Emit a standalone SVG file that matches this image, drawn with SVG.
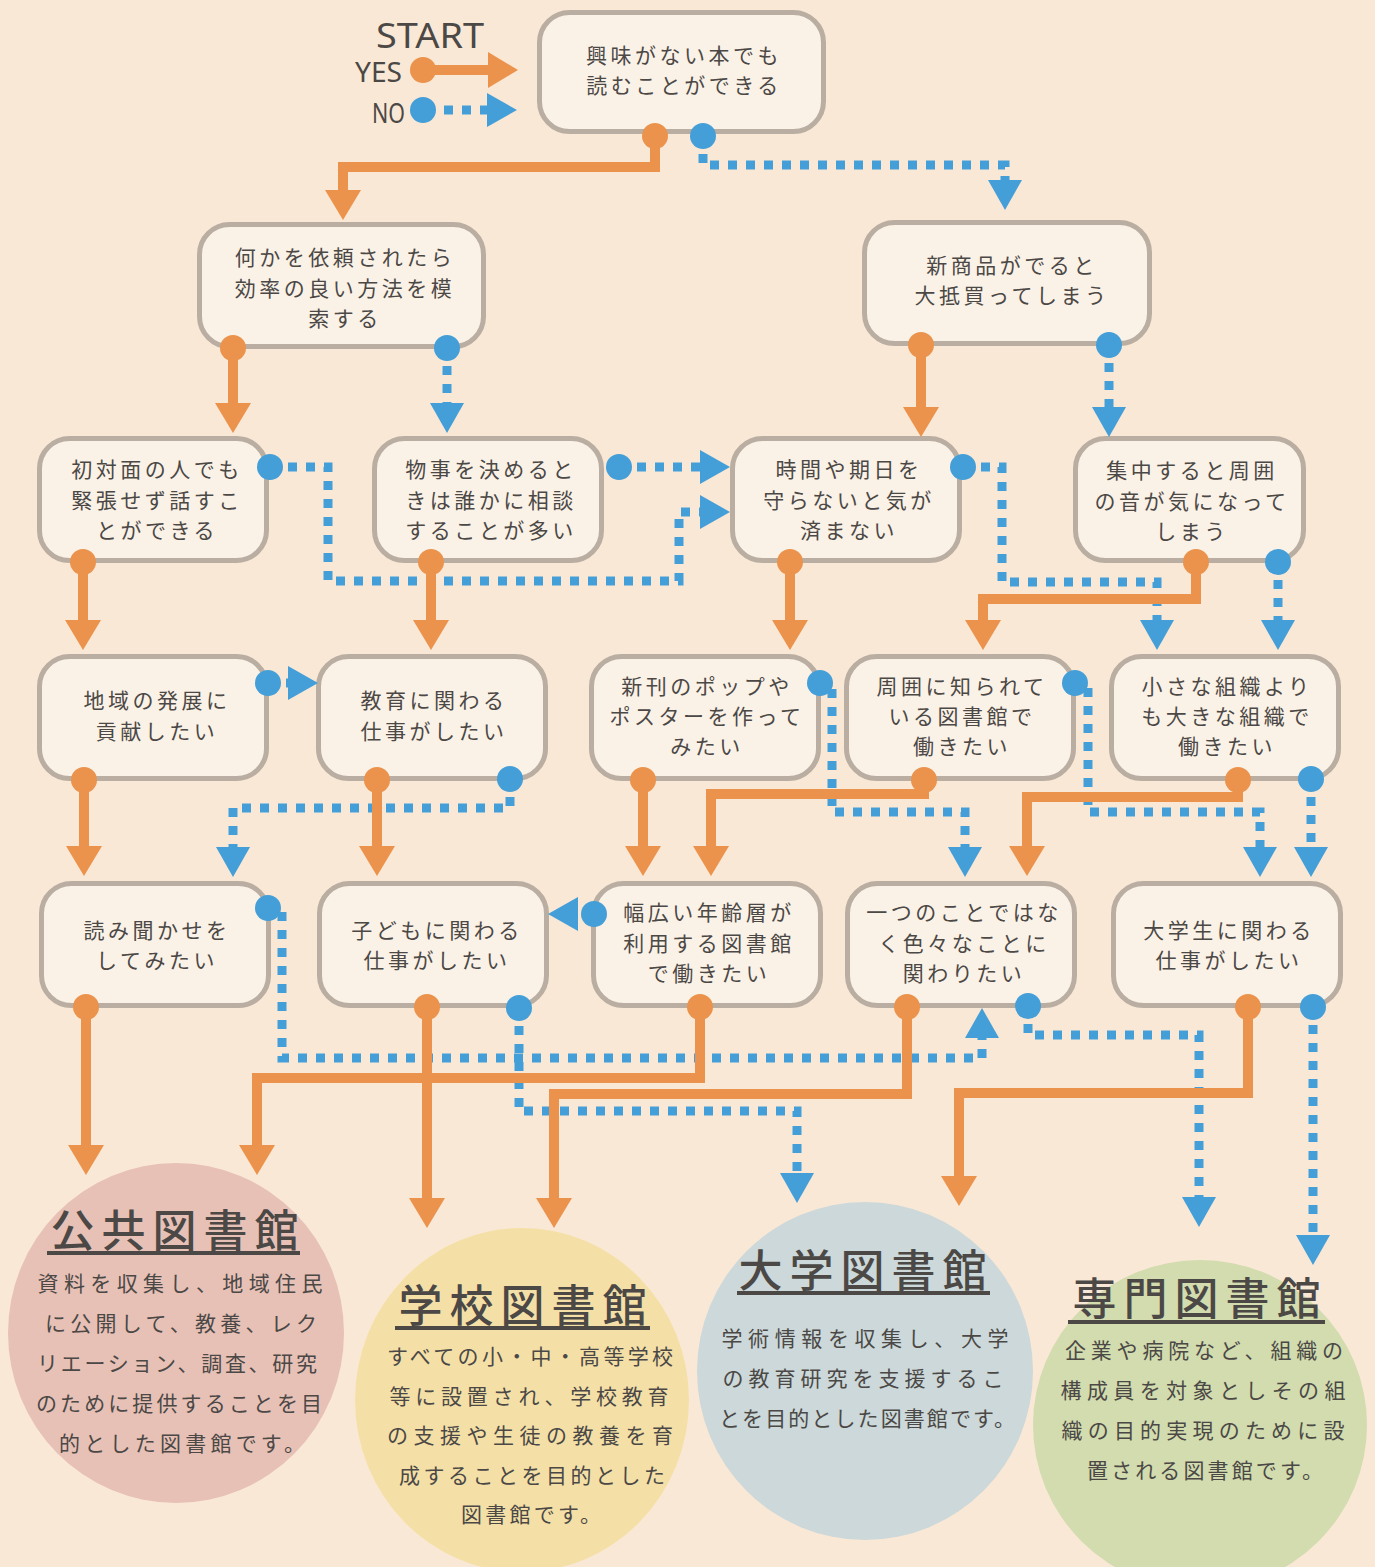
<svg xmlns="http://www.w3.org/2000/svg" width="1375" height="1567" viewBox="0 0 1375 1567">
<defs>
<style>
.box{fill:#FBF2E7;stroke:#B9AEA1;stroke-width:5}
.t{font-family:"Noto Sans CJK JP","Noto Sans CJK SC",sans-serif;font-size:21px;fill:#4B4846;letter-spacing:3.5px;text-anchor:middle}
.b{font-family:"Noto Sans CJK JP","Noto Sans CJK SC",sans-serif;font-size:21px;fill:#4B4846;text-anchor:middle}
.h{font-family:"Noto Sans CJK JP","Noto Sans CJK SC",sans-serif;font-size:44px;font-weight:500;fill:#4B4846;letter-spacing:7px;text-anchor:middle}
.ul{stroke:#4B4846;stroke-width:4}
.lg{font-family:"Noto Sans","DejaVu Sans",sans-serif;fill:#4B4846}
.y{fill:none;stroke:#EB934C;stroke-width:10;stroke-linejoin:miter;marker-start:url(#do);marker-end:url(#ao)}
.n{fill:none;stroke:#449ED8;stroke-width:9;stroke-dasharray:9 9;marker-start:url(#db);marker-end:url(#ab)}
</style>
<marker id="ao" viewBox="0 -18 30 36" refX="0" refY="0" markerWidth="30" markerHeight="36" markerUnits="userSpaceOnUse" orient="auto"><path d="M0,-18 L30,0 L0,18 Z" fill="#EB934C"/></marker>
<marker id="ab" viewBox="0 -17 30 34" refX="0" refY="0" markerWidth="30" markerHeight="34" markerUnits="userSpaceOnUse" orient="auto"><path d="M0,-17 L30,0 L0,17 Z" fill="#449ED8"/></marker>
<marker id="do" viewBox="-13 -13 26 26" refX="0" refY="0" markerWidth="26" markerHeight="26" markerUnits="userSpaceOnUse"><circle r="13" fill="#EB934C"/></marker>
<marker id="db" viewBox="-13 -13 26 26" refX="0" refY="0" markerWidth="26" markerHeight="26" markerUnits="userSpaceOnUse"><circle r="13" fill="#449ED8"/></marker>
</defs>
<rect width="1375" height="1567" fill="#FAE8D6"/>

<g id="legend">
<text class="lg" x="376" y="48" font-size="35" textLength="108" lengthAdjust="spacingAndGlyphs">START</text>
<text class="lg" x="355" y="82" font-size="28" textLength="47" lengthAdjust="spacingAndGlyphs">YES</text>
<text class="lg" x="372" y="123" font-size="28" textLength="33" lengthAdjust="spacingAndGlyphs">NO</text>
<path class="y" d="M423,70 H488"/>
<path class="n" d="M423,110 H487" stroke-dashoffset="-3" stroke-dasharray="10 10"/>
</g>

<g id="lib-public">
<ellipse cx="176" cy="1333" rx="168" ry="170" fill="#E7C1B6"/>
<text class="h" x="178" y="1247">公共図書館</text>
<line class="ul" x1="47" y1="1253" x2="300" y2="1253"/>
<text class="b" x="180" y="1291" textLength="285">資料を収集し、地域住民</text>
<text class="b" x="181" y="1331" textLength="272">に公開して、教養、レク</text>
<text class="b" x="177" y="1371" textLength="280">リエーション、調査、研究</text>
<text class="b" x="179" y="1411" textLength="286">のために提供することを目</text>
<text class="b" x="182" y="1451" textLength="246">的とした図書館です。</text>
</g>
<g id="lib-school">
<ellipse cx="522" cy="1400" rx="167" ry="172" fill="#F4E0A7"/>
<text class="h" x="526" y="1322">学校図書館</text>
<line class="ul" x1="395" y1="1328" x2="650" y2="1328"/>
<text class="b" x="530" y="1364" textLength="286">すべての小・中・高等学校</text>
<text class="b" x="529" y="1404" textLength="279">等に設置され、学校教育</text>
<text class="b" x="530" y="1443" textLength="286">の支援や生徒の教養を育</text>
<text class="b" x="532" y="1483" textLength="266">成することを目的とした</text>
<text class="b" x="531" y="1522" textLength="140">図書館です。</text>
</g>
<g id="lib-univ">
<ellipse cx="865" cy="1371" rx="168" ry="169" fill="#CCD8D9"/>
<text class="h" x="866" y="1287">大学図書館</text>
<line class="ul" x1="737" y1="1293" x2="990" y2="1293"/>
<text class="b" x="865" y="1346" textLength="287">学術情報を収集し、大学</text>
<text class="b" x="863" y="1386" textLength="281">の教育研究を支援するこ</text>
<text class="b" x="867" y="1426" textLength="296">とを目的とした図書館です。</text>
</g>
<g id="lib-special">
<ellipse cx="1200" cy="1425" rx="167" ry="165" fill="#D2DCAE"/>
<text class="h" x="1200" y="1315">専門図書館</text>
<line class="ul" x1="1068" y1="1322" x2="1325" y2="1322"/>
<text class="b" x="1204" y="1358" textLength="278">企業や病院など、組織の</text>
<text class="b" x="1203" y="1398" textLength="285">構成員を対象としその組</text>
<text class="b" x="1203" y="1438" textLength="283">織の目的実現のために設</text>
<text class="b" x="1205" y="1478" textLength="236">置される図書館です。</text>
</g>

<g id="q-start">
<rect class="box" x="539.5" y="12.5" width="284" height="119" rx="30"/>
<text class="t" x="684" y="63">興味がない本でも</text>
<text class="t" x="684" y="93">読むことができる</text>
</g>
<g id="q-request">
<rect class="box" x="199.5" y="224.5" width="284" height="122" rx="30"/>
<text class="t" x="345" y="265">何かを依頼されたら</text>
<text class="t" x="345" y="296">効率の良い方法を模</text>
<text class="t" x="345" y="326">索する</text>
</g>
<g id="q-newproduct">
<rect class="box" x="864.5" y="222.5" width="285" height="121" rx="30"/>
<text class="t" x="1012" y="273">新商品がでると</text>
<text class="t" x="1012" y="303">大抵買ってしまう</text>
</g>
<g id="q-firstmeet">
<rect class="box" x="39.5" y="438.5" width="227" height="122" rx="30"/>
<text class="t" x="157" y="477">初対面の人でも</text>
<text class="t" x="157" y="508">緊張せず話すこ</text>
<text class="t" x="157" y="538">とができる</text>
</g>
<g id="q-consult">
<rect class="box" x="374.5" y="438.5" width="227" height="122" rx="30"/>
<text class="t" x="491" y="477">物事を決めると</text>
<text class="t" x="491" y="508">きは誰かに相談</text>
<text class="t" x="491" y="538">することが多い</text>
</g>
<g id="q-deadline">
<rect class="box" x="732.5" y="438.5" width="227" height="122" rx="30"/>
<text class="t" x="849" y="477">時間や期日を</text>
<text class="t" x="849" y="508">守らないと気が</text>
<text class="t" x="849" y="538">済まない</text>
</g>
<g id="q-focus">
<rect class="box" x="1075.5" y="438.5" width="228" height="122" rx="30"/>
<text class="t" x="1192" y="478">集中すると周囲</text>
<text class="t" x="1192" y="509">の音が気になって</text>
<text class="t" x="1192" y="539">しまう</text>
</g>
<g id="q-community">
<rect class="box" x="39.5" y="656.5" width="227" height="122" rx="30"/>
<text class="t" x="157" y="708">地域の発展に</text>
<text class="t" x="157" y="739">貢献したい</text>
</g>
<g id="q-education">
<rect class="box" x="318.5" y="656.5" width="227" height="122" rx="30"/>
<text class="t" x="434" y="708">教育に関わる</text>
<text class="t" x="434" y="739">仕事がしたい</text>
</g>
<g id="q-pop">
<rect class="box" x="591.5" y="656.5" width="227" height="122" rx="30"/>
<text class="t" x="707" y="694">新刊のポップや</text>
<text class="t" x="707" y="724">ポスターを作って</text>
<text class="t" x="707" y="754">みたい</text>
</g>
<g id="q-famous">
<rect class="box" x="846.5" y="656.5" width="227" height="122" rx="30"/>
<text class="t" x="962" y="694">周囲に知られて</text>
<text class="t" x="962" y="724">いる図書館で</text>
<text class="t" x="962" y="754">働きたい</text>
</g>
<g id="q-bigorg">
<rect class="box" x="1111.5" y="656.5" width="227" height="122" rx="30"/>
<text class="t" x="1227" y="694">小さな組織より</text>
<text class="t" x="1227" y="724">も大きな組織で</text>
<text class="t" x="1227" y="754">働きたい</text>
</g>
<g id="q-storytime">
<rect class="box" x="41.5" y="883.5" width="227" height="122" rx="30"/>
<text class="t" x="157" y="938">読み聞かせを</text>
<text class="t" x="157" y="968">してみたい</text>
</g>
<g id="q-children">
<rect class="box" x="319.5" y="883.5" width="227" height="122" rx="30"/>
<text class="t" x="437" y="938">子どもに関わる</text>
<text class="t" x="437" y="968">仕事がしたい</text>
</g>
<g id="q-allages">
<rect class="box" x="593.5" y="883.5" width="227" height="122" rx="30"/>
<text class="t" x="709" y="920">幅広い年齢層が</text>
<text class="t" x="709" y="951">利用する図書館</text>
<text class="t" x="709" y="981">で働きたい</text>
</g>
<g id="q-variety">
<rect class="box" x="847.5" y="883.5" width="227" height="122" rx="30"/>
<text class="t" x="964" y="920">一つのことではな</text>
<text class="t" x="964" y="951">く色々なことに</text>
<text class="t" x="964" y="981">関わりたい</text>
</g>
<g id="q-students">
<rect class="box" x="1113.5" y="883.5" width="227" height="122" rx="30"/>
<text class="t" x="1229" y="938">大学生に関わる</text>
<text class="t" x="1229" y="968">仕事がしたい</text>
</g>

<g id="connectors">
<path class="n" d="M703,136 V165 H1005 V180"/>
<path class="n" d="M447,348 V403"/>
<path class="n" d="M1109,345 V407"/>
<path class="n" d="M270,467 H328 V581 H679 V512 H700"/>
<path class="n" d="M619,467 H700"/>
<path class="n" d="M963,467 H1002 V582 H1157 V620"/>
<path class="n" d="M1278,562 V620"/>
<path class="n" d="M268,683 H288"/>
<path class="n" d="M510,779 V808 H233 V847"/>
<path class="n" d="M820,683 H832 V812 H965 V847"/>
<path class="n" d="M1075,683 H1088 V812 H1260 V847"/>
<path class="n" d="M1311,779 V847"/>
<path class="n" d="M268,908 H282 V1058 H982 V1038"/>
<path class="n" d="M519,1008 V1111 H797 V1173"/>
<path class="n" d="M594,914 H578"/>
<path class="n" d="M1028,1006 V1035 H1199 V1197"/>
<path class="n" d="M1313,1007 V1235"/>
<path class="y" d="M655,136 V167 H343 V190"/>
<path class="y" d="M233,348 V403"/>
<path class="y" d="M921,345 V407"/>
<path class="y" d="M83,562 V620"/>
<path class="y" d="M431,562 V620"/>
<path class="y" d="M790,562 V620"/>
<path class="y" d="M1196,562 V599 H983 V620"/>
<path class="y" d="M84,780 V846"/>
<path class="y" d="M377,780 V846"/>
<path class="y" d="M643,780 V846"/>
<path class="y" d="M924,780 V794 H711 V846"/>
<path class="y" d="M1238,780 V797 H1027 V846"/>
<path class="y" d="M86,1007 V1145"/>
<path class="y" d="M427,1007 V1198"/>
<path class="y" d="M700,1007 V1078 H257 V1145"/>
<path class="y" d="M907,1007 V1094 H554 V1198"/>
<path class="y" d="M1248,1007 V1093 H959 V1176"/>
</g>
</svg>
